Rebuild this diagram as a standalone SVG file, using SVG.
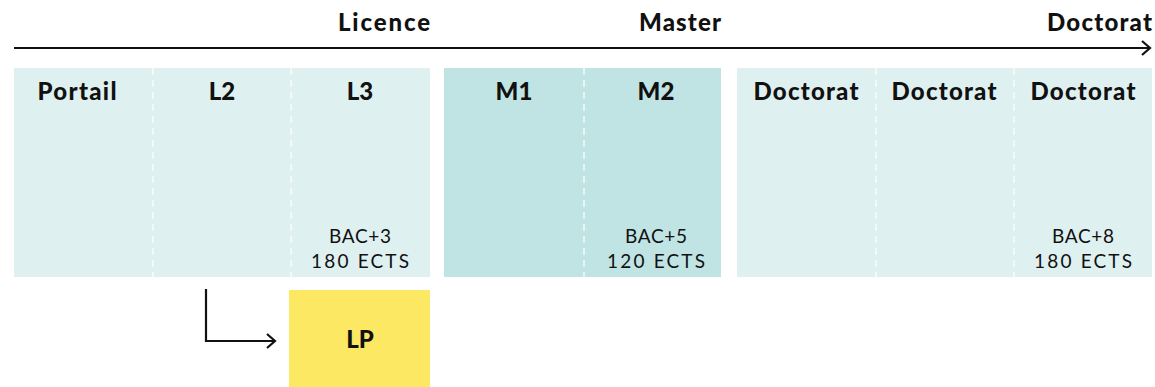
<svg xmlns="http://www.w3.org/2000/svg" width="1155" height="387" viewBox="0 0 1155 387">
<defs>
<style>
.h{font-family:Lato,"Liberation Sans",sans-serif;font-weight:900;font-size:24px;fill:#111;}
.t{font-family:Lato,"Liberation Sans",sans-serif;font-weight:900;font-size:24px;fill:#111;text-anchor:middle;}
.s{font-family:Lato,"Liberation Sans",sans-serif;font-weight:400;font-size:19px;fill:#111;text-anchor:middle;}
.light{fill:#dff0f0;}
.dark{fill:#c0e4e4;}
.div{stroke:#ffffff;stroke-width:1.2;stroke-dasharray:7 5;}
.ln{stroke:#111;stroke-width:2.2;fill:none;}
</style>
<marker id="arr" markerWidth="12" markerHeight="16" refX="10" refY="8" orient="auto" markerUnits="userSpaceOnUse">
<path d="M2,1 L10,8 L2,15" fill="none" stroke="#111" stroke-width="2.2"/>
</marker>
</defs>
<g id="timeline">
<text class="h" x="430" y="31" text-anchor="end" textLength="92">Licence</text>
<text class="h" x="680" y="31" text-anchor="middle" textLength="82">Master</text>
<text class="h" x="1152" y="31" text-anchor="end" textLength="105">Doctorat</text>
</g>
<g id="licence">
<rect class="light" x="14" y="68" width="416" height="209"/>
<line class="div" x1="153" y1="68" x2="153" y2="277"/>
<line class="div" x1="291" y1="68" x2="291" y2="277"/>
<text class="t" x="77" y="100" textLength="79">Portail</text>
<text class="t" x="222" y="100">L2</text>
<text class="t" x="360" y="100">L3</text>
<text class="s" x="360" y="243" textLength="62">BAC+3</text>
<text class="s" x="360" y="268" textLength="98">180 ECTS</text>
</g>
<g id="master">
<rect class="dark" x="444" y="68" width="277" height="209"/>
<line class="div" x1="584" y1="68" x2="584" y2="277"/>
<text class="t" x="514" y="100">M1</text>
<text class="t" x="656" y="100">M2</text>
<text class="s" x="656" y="243" textLength="62">BAC+5</text>
<text class="s" x="656" y="268" textLength="98">120 ECTS</text>
</g>
<g id="doctorat">
<rect class="light" x="737" y="68" width="415" height="209"/>
<line class="div" x1="876" y1="68" x2="876" y2="277"/>
<line class="div" x1="1014" y1="68" x2="1014" y2="277"/>
<text class="t" x="806" y="100" textLength="105">Doctorat</text>
<text class="t" x="944" y="100" textLength="105">Doctorat</text>
<text class="t" x="1083" y="100" textLength="105">Doctorat</text>
<text class="s" x="1083" y="243" textLength="62">BAC+8</text>
<text class="s" x="1083" y="268" textLength="98">180 ECTS</text>
</g>
<g id="lp">
<rect x="289" y="290" width="141" height="97" fill="#fde864"/>
<text class="t" x="360" y="348">LP</text>
</g>
<g id="connectors">
<line class="ln" x1="14" y1="48" x2="1150" y2="48" marker-end="url(#arr)"/>
<path class="ln" d="M206,289 L206,341 L275,341" marker-end="url(#arr)"/>
</g>
</svg>
